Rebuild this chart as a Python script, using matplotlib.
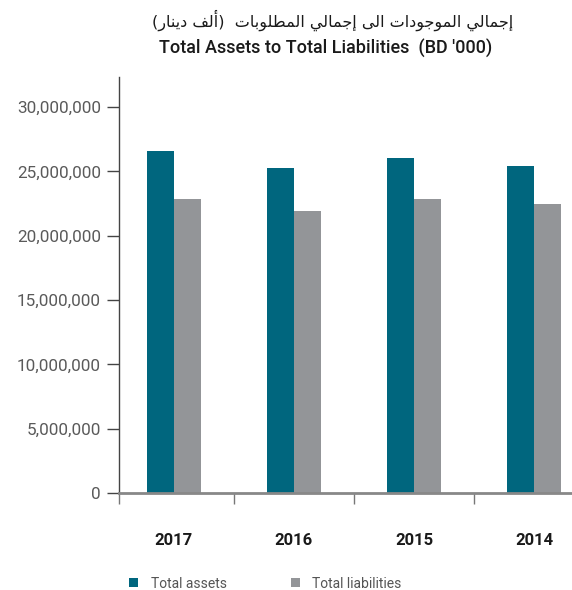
import matplotlib
matplotlib.use("Agg")
import matplotlib.pyplot as plt
import numpy as np

# chart data
years = ["2017", "2016", "2015", "2014"]
total_assets = [26550000, 25300000, 26050000, 25450000]
total_liabilities = [22850000, 21950000, 22850000, 22450000]
yticks = [0, 5000000, 10000000, 15000000, 20000000, 25000000, 30000000]

title_ar = "إجمالي الموجودات الى إجمالي المطلوبات  (ألف دينار)"
title_en = "Total Assets to Total Liabilities  (BD '000)"

TEAL = "#00667e"
GREY = "#939598"

# minimal arabic shaping: (isolated, final, initial, medial)
FORMS = {
    "ا": (0xFE8D, 0xFE8E, None, None),
    "أ": (0xFE83, 0xFE84, None, None),
    "إ": (0xFE87, 0xFE88, None, None),
    "ب": (0xFE8F, 0xFE90, 0xFE91, 0xFE92),
    "ت": (0xFE95, 0xFE96, 0xFE97, 0xFE98),
    "ج": (0xFE9D, 0xFE9E, 0xFE9F, 0xFEA0),
    "د": (0xFEA9, 0xFEAA, None, None),
    "ر": (0xFEAD, 0xFEAE, None, None),
    "ط": (0xFEC1, 0xFEC2, 0xFEC3, 0xFEC4),
    "ف": (0xFED1, 0xFED2, 0xFED3, 0xFED4),
    "ل": (0xFEDD, 0xFEDE, 0xFEDF, 0xFEE0),
    "م": (0xFEE1, 0xFEE2, 0xFEE3, 0xFEE4),
    "ن": (0xFEE5, 0xFEE6, 0xFEE7, 0xFEE8),
    "و": (0xFEED, 0xFEEE, None, None),
    "ى": (0xFEEF, 0xFEF0, None, None),
    "ي": (0xFEF1, 0xFEF2, 0xFEF3, 0xFEF4),
}


def shape_arabic(s):
    out = []
    for i, c in enumerate(s):
        if c not in FORMS:
            out.append(c)
            continue
        prev = s[i - 1] if i > 0 else ""
        nxt = s[i + 1] if i + 1 < len(s) else ""
        joins_prev = prev in FORMS and FORMS[prev][2] is not None
        joins_next = nxt in FORMS and FORMS[c][2] is not None
        iso, fin, ini, med = FORMS[c]
        if joins_prev and joins_next:
            code = med
        elif joins_prev:
            code = fin
        elif joins_next:
            code = ini
        else:
            code = iso
        out.append(chr(code))
    swap = {"(": ")", ")": "("}
    return "".join(swap.get(c, c) for c in reversed(out))


plt.rcParams["font.family"] = ["Roboto", "DejaVu Sans"]

fig = plt.figure(figsize=(5.72, 5.9), dpi=100)
ax = fig.add_axes([0.208, 0.1644, 0.792, 0.705])

x = np.arange(len(years))
w = 0.222
ax.bar(x - w / 2, total_assets, w, color=TEAL, label="Total assets")
ax.bar(x + w / 2, total_liabilities, w, color=GREY, label="Total liabilities")

ax.set_xlim(-0.458, 3.317)
ax.set_ylim(0, 32330000)
ax.set_yticks(yticks)
ax.set_yticklabels([f"{v:,}" for v in yticks], fontsize=12.3, color="#5a5a5a")
ax.tick_params(axis="y", direction="out", length=9, width=1, color="#444444", pad=4)

ax.set_xticks([-0.458, 0.5, 1.5, 2.5])
ax.set_xticklabels([])
ax.tick_params(axis="x", direction="out", length=8, width=1, color="#777777")

for i, yr in enumerate(years):
    ax.text(i, -0.115, yr, transform=ax.get_xaxis_transform(), ha="center", va="center",
            fontsize=12, fontweight="bold", color="#1a1a1a")

for side in ["top", "right"]:
    ax.spines[side].set_visible(False)
ax.spines["left"].set_color("#444444")
ax.spines["left"].set_linewidth(1)
ax.spines["bottom"].set_color("#888888")
ax.spines["bottom"].set_linewidth(2)

fig.text(0.581, 0.965, shape_arabic(title_ar), ha="center", va="center",
         fontsize=11.5, color="#1a1a1a", family="DejaVu Sans")
fig.text(0.57, 0.918, title_en, ha="center", va="center", fontsize=13,
         fontweight="medium", color="#1a1a1a")

leg = fig.legend(loc="center left", bbox_to_anchor=(0.204, 0.011), ncol=2, frameon=False,
                 fontsize=10, handlelength=0.65, handleheight=0.65, handletextpad=0.9,
                 columnspacing=4.6)
for t in leg.get_texts():
    t.set_color("#555555")

fig.savefig("out.png", dpi=100)
